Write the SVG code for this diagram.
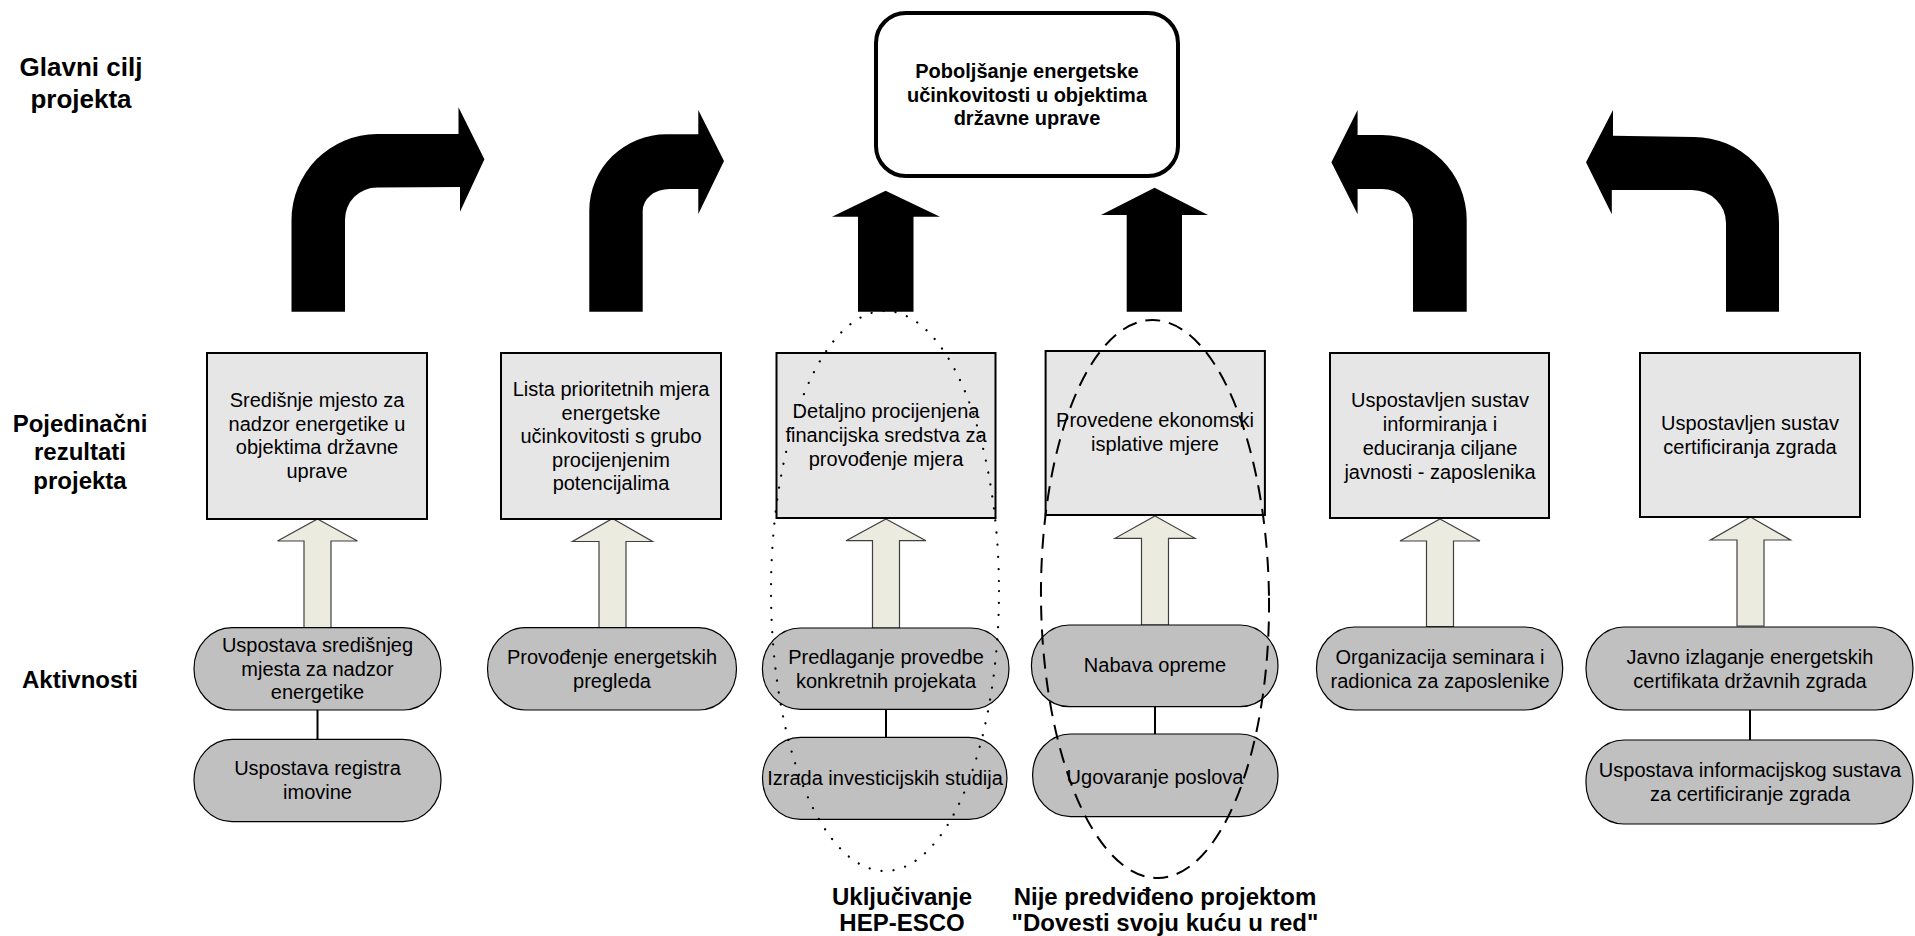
<svg xmlns="http://www.w3.org/2000/svg" width="1915" height="936" viewBox="0 0 1915 936">
<style>
.lbl{font-family:"Liberation Sans",Arial,sans-serif;font-weight:bold;fill:#000;text-anchor:middle}
.t{font-family:"Liberation Sans",Arial,sans-serif;font-size:20px;fill:#000;text-anchor:middle}
.tb{font-family:"Liberation Sans",Arial,sans-serif;font-size:20px;font-weight:bold;fill:#000;text-anchor:middle}
.box{fill:#e6e6e6;stroke:#000;stroke-width:2}
.pill{fill:#c0c0c0;stroke:#000;stroke-width:1.2}
.big{fill:#000;stroke:none}
.light{fill:#ebebe0;stroke:#404040;stroke-width:1.2}
.conn{stroke:#000;stroke-width:2;fill:none}
</style>
<rect width="1915" height="936" fill="#fff"/>

<g id="labels">
<text class="lbl" font-size="26" x="81" y="76">Glavni cilj</text>
<text class="lbl" font-size="26" x="81" y="108">projekta</text>
<text class="lbl" font-size="24" x="80" y="432">Pojedinačni</text>
<text class="lbl" font-size="24" x="80" y="460">rezultati</text>
<text class="lbl" font-size="24" x="80" y="489">projekta</text>
<text class="lbl" font-size="24" x="80" y="688">Aktivnosti</text>
<text class="lbl" font-size="24" x="902" y="905">Uključivanje</text>
<text class="lbl" font-size="24" x="902" y="931">HEP-ESCO</text>
<text class="lbl" font-size="24" x="1165" y="905">Nije predviđeno projektom</text>
<text class="lbl" font-size="24" x="1165" y="931">"Dovesti svoju kuću u red"</text>
</g>

<g id="goal">
<rect x="876" y="13" width="302" height="163" rx="30" ry="30" fill="#fff" stroke="#000" stroke-width="4"/>
<text class="tb" x="1027" y="78">Poboljšanje energetske</text>
<text class="tb" x="1027" y="102">učinkovitosti u objektima</text>
<text class="tb" x="1027" y="125">državne uprave</text>
</g>

<g id="connectors">
<path class="big" d="M291.5 311.7 L291.5 220 A86 86 0 0 1 377 134 L458.5 134 L458.5 107.3 L484.4 159.3 L460 211.7 L460 187 L377 187.5 A32 32 0 0 0 345 219.5 L345 311.7 Z"/>
<path class="big" d="M589.3 311.7 L589.3 210 A77 76 0 0 1 666.7 134.3 L698.3 134.3 L698.3 110 L724 161 L698.3 214 L698.3 189 L670 189 A27 22 0 0 0 642.7 211 L642.7 311.7 Z"/>
<path class="big" d="M858 311.7 L858 216.7 L832 216.7 L885.6 190.7 L940 216.7 L913.5 216.7 L913.5 311.7 Z"/>
<path class="big" d="M1126.7 311.7 L1126.7 215 L1101 215 L1154.6 187.7 L1208 215 L1182 215 L1182 311.7 Z"/>
<path class="big" d="M1466.7 311.7 L1466.7 220 A85 85 0 0 0 1382 135 L1357.6 135 L1357.6 110 L1331.4 162.3 L1357.6 214.3 L1357.6 189 L1382 189 A31 31 0 0 1 1413 220 L1413 311.7 Z"/>
<path class="big" d="M1779 311.7 L1779 223 A85 86 0 0 0 1694 137 L1613 135.7 L1613 110 L1586 162.3 L1611.8 214.3 L1611.8 190 L1692 190 A34 33 0 0 1 1726 223 L1726 311.7 Z"/>

<polygon class="light" points="317.5,519 357.5,541 331,541 331,627.7 304,627.7 304,541 277.5,541"/>
<polygon class="light" points="612.5,518.5 652.5,541.5 626,541.5 626,627.7 599,627.7 599,541.5 572.5,541.5"/>
<polygon class="light" points="886,519 926,540.7 899.5,540.7 899.5,628 872.5,628 872.5,540.7 846,540.7"/>
<polygon class="light" points="1155,516 1195,538.3 1168.5,538.3 1168.5,625 1141.5,625 1141.5,538.3 1115,538.3"/>
<polygon class="light" points="1440,519 1480,541 1453.5,541 1453.5,626.7 1426.5,626.7 1426.5,541 1400,541"/>
<polygon class="light" points="1750.5,517 1790.5,540 1764,540 1764,626 1737,626 1737,540 1710.5,540"/>

<line class="conn" x1="317.5" y1="710" x2="317.5" y2="739.3"/>
<line class="conn" x1="886" y1="709.3" x2="886" y2="737.3"/>
<line class="conn" x1="1155" y1="706.7" x2="1155" y2="734"/>
<line class="conn" x1="1750" y1="710" x2="1750" y2="740"/>
</g>

<g id="r1"><rect class="box" x="207" y="353" width="220" height="166"/>
<text class="t" x="317" y="407">Središnje mjesto za</text>
<text class="t" x="317" y="430.5">nadzor energetike u</text>
<text class="t" x="317" y="454">objektima državne</text>
<text class="t" x="317" y="477.5">uprave</text></g>
<g id="r2"><rect class="box" x="501" y="353" width="220" height="166"/>
<text class="t" x="611" y="396">Lista prioritetnih mjera</text>
<text class="t" x="611" y="419.5">energetske</text>
<text class="t" x="611" y="443">učinkovitosti s grubo</text>
<text class="t" x="611" y="466.5">procijenjenim</text>
<text class="t" x="611" y="490">potencijalima</text></g>
<g id="r3"><rect class="box" x="776.5" y="353" width="219" height="165"/>
<text class="t" x="886" y="418">Detaljno procijenjena</text>
<text class="t" x="886" y="442">financijska sredstva za</text>
<text class="t" x="886" y="466">provođenje mjera</text></g>
<g id="r4"><rect class="box" x="1045.6" y="351" width="219.3" height="164"/>
<text class="t" x="1155" y="427">Provedene ekonomski</text>
<text class="t" x="1155" y="451">isplative mjere</text></g>
<g id="r5"><rect class="box" x="1330" y="353" width="219" height="165"/>
<text class="t" x="1440" y="407">Uspostavljen sustav</text>
<text class="t" x="1440" y="431">informiranja i</text>
<text class="t" x="1440" y="455">educiranja ciljane</text>
<text class="t" x="1440" y="479">javnosti - zaposlenika</text></g>
<g id="r6"><rect class="box" x="1640" y="353" width="220" height="164"/>
<text class="t" x="1750" y="430">Uspostavljen sustav</text>
<text class="t" x="1750" y="454">certificiranja zgrada</text></g>

<g id="a1a"><rect class="pill" x="194" y="627.7" width="247" height="82.3" rx="38" ry="41"/>
<text class="t" x="317.5" y="652">Uspostava središnjeg</text>
<text class="t" x="317.5" y="675.5">mjesta za nadzor</text>
<text class="t" x="317.5" y="699">energetike</text></g>
<g id="a1b"><rect class="pill" x="194" y="739.3" width="247" height="82.4" rx="38" ry="41"/>
<text class="t" x="317.5" y="775">Uspostava registra</text>
<text class="t" x="317.5" y="799">imovine</text></g>
<g id="a2"><rect class="pill" x="487.5" y="627.7" width="249" height="82.3" rx="38" ry="41"/>
<text class="t" x="612" y="664">Provođenje energetskih</text>
<text class="t" x="612" y="687.5">pregleda</text></g>
<g id="a3a"><rect class="pill" x="762.4" y="628" width="246.6" height="81.3" rx="38" ry="41"/>
<text class="t" x="886" y="664">Predlaganje provedbe</text>
<text class="t" x="886" y="687.5">konkretnih projekata</text></g>
<g id="a3b"><rect class="pill" x="762.5" y="737.3" width="244.5" height="82" rx="38" ry="41"/>
<text class="t" x="885" y="785">Izrada investicijskih studija</text></g>
<g id="a4a"><rect class="pill" x="1031.4" y="625" width="246.6" height="81.7" rx="38" ry="41"/>
<text class="t" x="1155" y="672">Nabava opreme</text></g>
<g id="a4b"><rect class="pill" x="1032.6" y="734" width="245.4" height="82.7" rx="38" ry="41"/>
<text class="t" x="1155" y="784">Ugovaranje poslova</text></g>
<g id="a5"><rect class="pill" x="1316.5" y="627" width="246.2" height="83" rx="38" ry="41"/>
<text class="t" x="1440" y="664">Organizacija seminara i</text>
<text class="t" x="1440" y="687.5">radionica za zaposlenike</text></g>
<g id="a6a"><rect class="pill" x="1586" y="627" width="327" height="83" rx="38" ry="41"/>
<text class="t" x="1750" y="664">Javno izlaganje energetskih</text>
<text class="t" x="1750" y="687.5">certifikata državnih zgrada</text></g>
<g id="a6b"><rect class="pill" x="1586" y="740" width="327" height="84" rx="38" ry="41"/>
<text class="t" x="1750" y="777">Uspostava informacijskog sustava</text>
<text class="t" x="1750" y="801">za certificiranje zgrada</text></g>

<g id="groups">
<ellipse cx="885" cy="591" rx="114" ry="280" fill="none" stroke="#000" stroke-width="2.2" stroke-linecap="round" stroke-dasharray="0.1 12"/>
<ellipse cx="1155" cy="599" rx="114" ry="279" fill="none" stroke="#000" stroke-width="2" stroke-dasharray="15 9" transform="rotate(-0.6 1155 599)"/>
</g>
</svg>
